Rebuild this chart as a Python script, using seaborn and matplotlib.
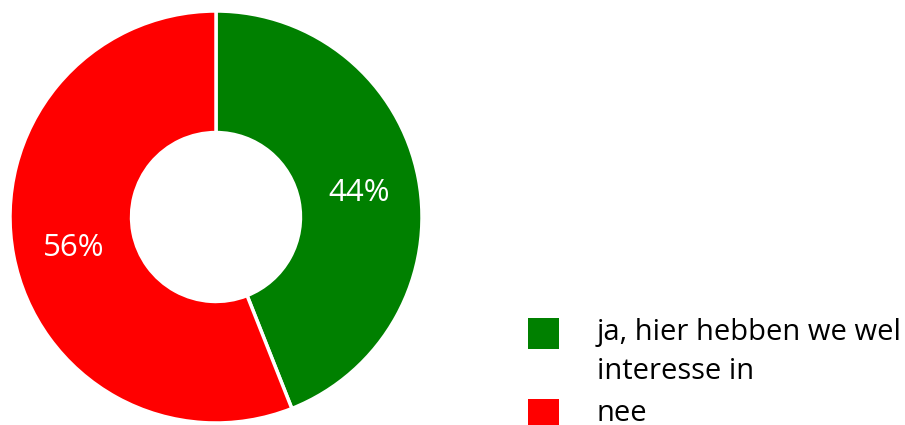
import seaborn as sns
import matplotlib.pyplot as plt
from matplotlib.patches import Patch

sns.set_theme(style = 'white')
plt.rcParams['font.family'] = ['Open Sans', 'DejaVu Sans']

labels = ['ja, hier hebben we wel\ninteresse in', 'nee']
values = [44, 56]
colors = ['#008000', '#ff0000']

fig = plt.figure(figsize = (9.05, 4.25), dpi = 100)
fig.patch.set_facecolor('white')
ax = fig.add_axes([10 / 905, 2 / 425, 412 / 905, 412 / 425])

wedges, texts, autotexts = ax.pie(values, colors = colors, startangle = 90, counterclock = False,
                                  autopct = '%.0f%%', pctdistance = 0.705,
                                  wedgeprops = dict(width = 0.59, edgecolor = 'white', linewidth = 2.5),
                                  textprops = dict(color = 'white', fontsize = 22.5, va = 'center_baseline'))
ax.set_xlim(-1, 1)
ax.set_ylim(-1, 1)
ax.set_aspect('equal')
ax.axis('off')

handles = [Patch(facecolor = c, edgecolor = 'none') for c in colors]
leg = fig.legend(handles, labels, loc = 'upper left', bbox_to_anchor = (528 / 905, 107 / 425),
                 frameon = False, fontsize = 21, borderpad = 0, borderaxespad = 0,
                 handlelength = 1.06, handleheight = 1.26, handletextpad = 1.3, labelspacing = 0.45)
for t in leg.get_texts():
    t.set_color('black')
    t.set_linespacing(1.45)
# square next to the first line of each label
for col in leg._legend_handle_box.get_children():
    for item in col.get_children():
        item.align = 'top'

fig.savefig('out.png', dpi = 100)
